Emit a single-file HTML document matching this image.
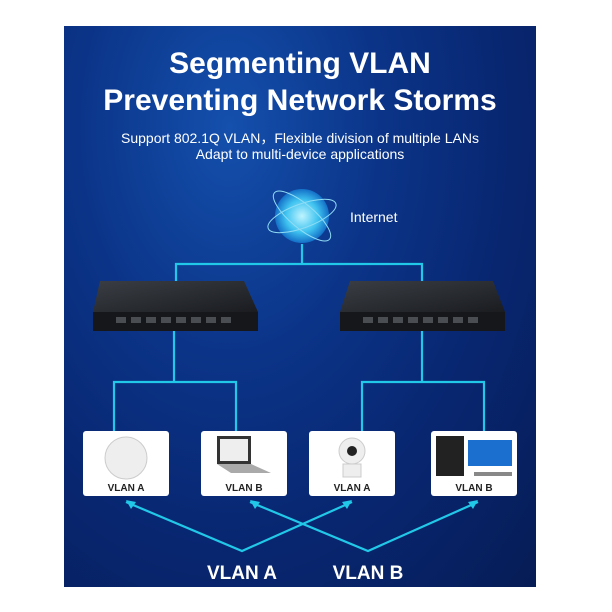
<!DOCTYPE html>
<html><head><style>
body{margin:0;background:#fff;width:612px;height:612px;overflow:hidden;position:relative;font-family:"Liberation Sans",sans-serif}
.panel{position:absolute;left:64px;top:26px;width:472px;height:561px;background:radial-gradient(ellipse at 35% 18%,#1450ad 0%,#0b3488 35%,#082670 65%,#061c55 100%)}
.t{position:absolute;left:64px;width:472px;text-align:center;color:#fff;font-weight:bold}
.box{position:absolute;top:431px;width:86px;height:65px;background:#fff;border-radius:3px}
.box span{position:absolute;bottom:2px;left:0;right:0;text-align:center;font-size:10px;font-weight:bold;color:#222}
</style></head><body>
<div class="panel"></div>
<div class="t" style="top:46px;font-size:30px;line-height:36px">Segmenting VLAN</div>
<div class="t" style="top:83px;font-size:30px;line-height:36px">Preventing Network Storms</div>
<div class="t" style="top:130px;font-size:14px;font-weight:normal;line-height:16px">Support 802.1Q VLAN，Flexible division of multiple LANs<br>Adapt to multi-device applications</div>
<svg width="612" height="612" style="position:absolute;left:0;top:0">
<defs><radialGradient id="g" cx="50%" cy="50%" r="50%"><stop offset="0" stop-color="#bff4ff"/><stop offset="0.6" stop-color="#3fc3f0"/><stop offset="1" stop-color="#1470c8"/></radialGradient>
<linearGradient id="sw" x1="0" y1="0" x2="1" y2="1"><stop offset="0" stop-color="#3a3e44"/><stop offset="1" stop-color="#1a1c20"/></linearGradient></defs>
<g stroke="#22c8e8" stroke-width="2.2" fill="none">
<polyline points="176,284 176,264 422,264 422,284"/><line x1="302" y1="244" x2="302" y2="264"/>
<polyline points="174,330 174,382"/><polyline points="114,431 114,382 236,382 236,431"/>
<polyline points="422,330 422,382"/><polyline points="362,431 362,382 484,382 484,431"/>
<polyline points="126,502 242,551 352,502"/><polyline points="250,502 368,551 478,502"/>
</g>
<g fill="#22c8e8"><polygon points="126,500 136,502 131,509"/><polygon points="250,500 260,502 255,509"/><polygon points="352,500 342,502 347,509"/><polygon points="478,500 468,502 473,509"/></g>
<circle cx="302" cy="216" r="27" fill="url(#g)"/>
<ellipse cx="302" cy="216" rx="36" ry="12" fill="none" stroke="#8fdcf5" stroke-width="1" transform="rotate(-20 302 216)"/>
<ellipse cx="302" cy="216" rx="36" ry="12" fill="none" stroke="#8fdcf5" stroke-width="1" transform="rotate(40 302 216)"/>
<text x="350" y="222" fill="#fff" font-size="14" font-family="Liberation Sans">Internet</text>
<g><polygon points="100,281 244,281 258,312 93,312" fill="url(#sw)"/><rect x="93" y="312" width="165" height="19" fill="#15171a"/>
<polygon points="350,281 493,281 505,312 340,312" fill="url(#sw)"/><rect x="340" y="312" width="165" height="19" fill="#15171a"/></g>
<g fill="#4a4d52">
<rect x="116" y="317" width="10" height="6"/><rect x="131" y="317" width="10" height="6"/><rect x="146" y="317" width="10" height="6"/><rect x="161" y="317" width="10" height="6"/><rect x="176" y="317" width="10" height="6"/><rect x="191" y="317" width="10" height="6"/><rect x="206" y="317" width="10" height="6"/><rect x="221" y="317" width="10" height="6"/>
<rect x="363" y="317" width="10" height="6"/><rect x="378" y="317" width="10" height="6"/><rect x="393" y="317" width="10" height="6"/><rect x="408" y="317" width="10" height="6"/><rect x="423" y="317" width="10" height="6"/><rect x="438" y="317" width="10" height="6"/><rect x="453" y="317" width="10" height="6"/><rect x="468" y="317" width="10" height="6"/>
</g>
<text x="242" y="579" fill="#fff" font-size="19" font-weight="bold" text-anchor="middle" font-family="Liberation Sans">VLAN  A</text>
<text x="368" y="579" fill="#fff" font-size="19" font-weight="bold" text-anchor="middle" font-family="Liberation Sans">VLAN  B</text>
</svg>
<div class="box" style="left:83px"><svg width="86" height="50"><circle cx="43" cy="27" r="21" fill="#eee" stroke="#ccc"/></svg><span>VLAN A</span></div>
<div class="box" style="left:201px"><svg width="86" height="50"><rect x="16" y="5" width="34" height="28" fill="#333"/><rect x="19" y="8" width="28" height="22" fill="#eee"/><polygon points="16,33 50,33 70,42 30,42" fill="#aaa"/></svg><span>VLAN B</span></div>
<div class="box" style="left:309px"><svg width="86" height="50"><circle cx="43" cy="20" r="13" fill="#eee" stroke="#ccc"/><circle cx="43" cy="20" r="5" fill="#222"/><rect x="34" y="33" width="18" height="13" fill="#eee" stroke="#ccc"/></svg><span>VLAN A</span></div>
<div class="box" style="left:431px"><svg width="86" height="50"><rect x="5" y="5" width="28" height="40" fill="#222"/><rect x="37" y="9" width="44" height="26" fill="#1a6fcf"/><rect x="43" y="41" width="38" height="4" fill="#888"/></svg><span>VLAN B</span></div>
</body></html>
